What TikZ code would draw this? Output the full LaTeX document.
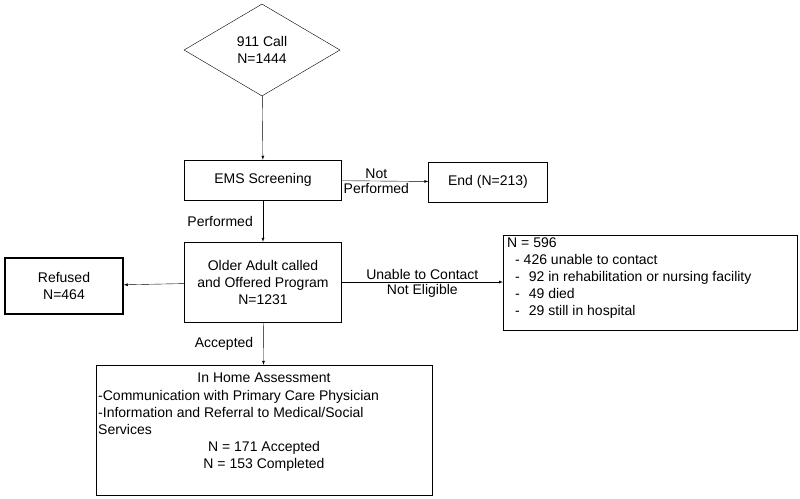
\documentclass[tikz,border=0pt]{standalone}
\usepackage{fontspec}
\setmainfont{Liberation Sans}
\usetikzlibrary{arrows,shapes,positioning}
\begin{document}
\begin{tikzpicture}[x=1pt,y=-1pt,
					every node/.style={
						align=center,
						font=\fontsize{14}{17}\selectfont
						},
					box/.style={rectangle,draw=black,inner sep=0pt},
					lbl/.style={inner sep=2pt},
					every edge/.style={draw,-latex}
					]
\useasboundingbox (0,0) rectangle (800,498);
\node[diamond,draw=black,minimum width=156pt,minimum height=92pt,inner sep=0pt](call) at (262,50){911 Call\\N=1444};
\node[box,minimum width=157pt,minimum height=40pt](ems) at (263,180){EMS Screening};
\node[box,minimum width=119pt,minimum height=40pt](end) at (488,182){End (N=213)};
\node[box,minimum width=157pt,minimum height=80pt](older) at (263,282){Older Adult called\\and Offered Program\\N=1231};
\node[box,line width=1.5pt,minimum width=118pt,minimum height=56pt](refused) at (64,286){Refused\\N=464};
\node[box,minimum width=294pt,minimum height=95pt,anchor=north west](inel) at (503,235){};
\node[anchor=north west,align=left,inner sep=0pt] at (507,238){N = 596\\
\hspace*{8pt}- 426 unable to contact\\
\hspace*{8pt}-\hspace*{9pt}92 in rehabilitation or nursing facility\\
\hspace*{8pt}-\hspace*{9pt}49 died\\
\hspace*{8pt}-\hspace*{9pt}29 still in hospital};
\node[box,minimum width=336pt,minimum height=130pt](home) at (264,430){};
\node[anchor=north,inner sep=0pt] at (264,373){In Home Assessment};
\node[anchor=north west,align=left,inner sep=0pt] at (98,390){-Communication with Primary Care Physician\\-Information and Referral to Medical/Social\\Services};
\node[anchor=north,inner sep=0pt] at (264,441){N = 171 Accepted\\N = 153 Completed};
\path
(call)edge (ems)
(ems)edge node[lbl,above,pos=0.4]{Not} node[lbl,below,pos=0.4]{Performed} (end)
(ems)edge node[lbl,left,pos=0.5,xshift=-8pt]{Performed} (older)
(older)edge (refused)
(older)edge node[lbl,above,pos=0.5]{Unable to Contact} node[lbl,below,pos=0.5]{Not Eligible} (inel.west|-older)
(older)edge node[lbl,left,pos=0.5,xshift=-8pt]{Accepted} (home)
;
\end{tikzpicture}
\end{document}
